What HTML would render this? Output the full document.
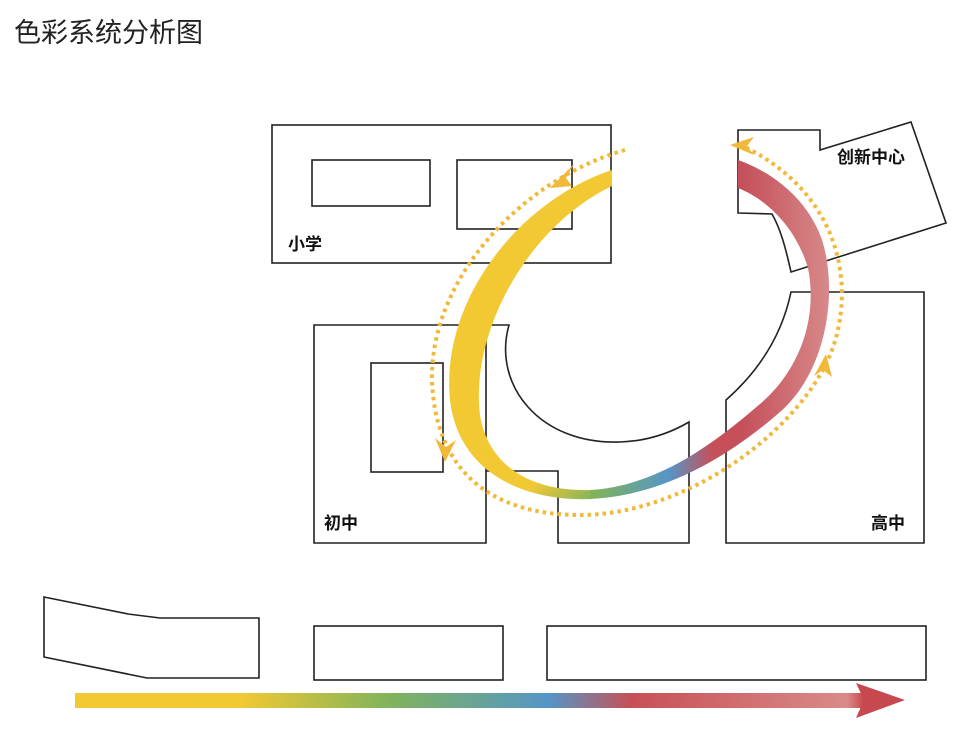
<!DOCTYPE html>
<html><head><meta charset="utf-8"><style>
html,body{margin:0;padding:0;background:#fff;width:960px;height:741px;overflow:hidden}
svg{display:block}
text{font-family:"Liberation Sans","Noto Sans CJK SC",sans-serif}
</style></head><body>
<svg width="960" height="741" viewBox="0 0 960 741">
<defs>
<linearGradient id="bar" x1="75" y1="0" x2="905" y2="0" gradientUnits="userSpaceOnUse">
<stop offset="0" stop-color="#f2c933"/><stop offset="0.2" stop-color="#f1c933"/>
<stop offset="0.38" stop-color="#80b35c"/><stop offset="0.57" stop-color="#5596c7"/>
<stop offset="0.67" stop-color="#c75056"/><stop offset="0.93" stop-color="#d98a88"/>
<stop offset="0.95" stop-color="#c8484f"/><stop offset="1" stop-color="#c8484f"/>
</linearGradient>
<linearGradient id="bandA" x1="540" y1="440" x2="595" y2="500" gradientUnits="userSpaceOnUse">
<stop offset="0" stop-color="#f2c933"/><stop offset="0.35" stop-color="#f0c934"/><stop offset="1" stop-color="#80b35c"/>
</linearGradient>
<linearGradient id="bandB" x1="595" y1="0" x2="840" y2="0" gradientUnits="userSpaceOnUse">
<stop offset="0" stop-color="#80b35c"/><stop offset="0.3" stop-color="#5596c7"/>
<stop offset="0.48" stop-color="#c5505a"/><stop offset="0.6" stop-color="#c5505a"/>
<stop offset="1" stop-color="#d99090"/>
</linearGradient>
</defs>
<text x="14" y="42" font-size="27" fill="#222">色彩系统分析图</text>
<g fill="none" stroke="#222" stroke-width="1.6">
<rect x="272" y="125" width="339" height="138"/>
<rect x="312" y="160" width="118" height="46"/>
<rect x="457" y="160" width="115" height="69"/>
<path d="M314,325 L486,325 L486,543 L314,543 Z"/>
<rect x="371" y="363" width="72" height="109"/>
<path d="M486,325 L509,325 C492,385 540,445 620,442 C650,441 672,432 689,422 L689,543 L558,543 L558,471 L486,471"/>
<path d="M791,292 L924,292 L924,543 L726,543 L726,400 C760,370 782,335 791,292 Z"/>
<path d="M738,130 L820,130 L820,150 L911,122 L946,223 L791,272 C785,245 780,228 772,214 L738,213 Z"/>
<path d="M44,597 L128,614 L160,618 L259,618 L259,678 L147,678 L44,657 Z"/>
<rect x="314" y="626" width="189" height="54"/>
<rect x="547" y="626" width="379" height="54"/>
</g>
<path d="M612,170 C520,200 440,300 450,400 C458,470 520,502 592,499 L592,490 C530,492 488,465 480,415 C470,335 525,228 612,186 Z" fill="url(#bandA)"/>
<path d="M590,499 C660,496 725,460 780,412 C828,370 838,290 822,240 C810,205 780,175 738,160 L738,188 C768,200 796,228 808,268 C818,318 800,370 760,404 C718,440 660,486 590,490 Z" fill="url(#bandB)"/>
<path d="M625,150 C520,180 430,280 432,380 C435,470 490,515 580,515 C680,515 790,440 828,360 C855,300 850,200 745,147" fill="none" stroke="#f0b93a" stroke-width="4" stroke-dasharray="3.5 4"/>
<g fill="#f0b93a">
<path d="M550,188 L574,164 L566,178 L572,186 Z"/>
<path d="M445,462 L435,438 L446,447 L456,440 Z"/>
<path d="M826,354 L814,376 L823,370 L832,377 Z"/>
<path d="M730,145 L754,137 L747,146 L754,155 Z"/>
</g>
<rect x="75" y="693" width="790" height="15" fill="url(#bar)"/>
<path d="M856,683 L905,700 L856,718 L864,700 Z" fill="#c8484f"/>
<g font-size="17" font-weight="bold" fill="#111">
<text x="288" y="250">小学</text>
<text x="324" y="529">初中</text>
<text x="871" y="529">高中</text>
<text x="837" y="163">创新中心</text>
</g>
</svg>
</body></html>
